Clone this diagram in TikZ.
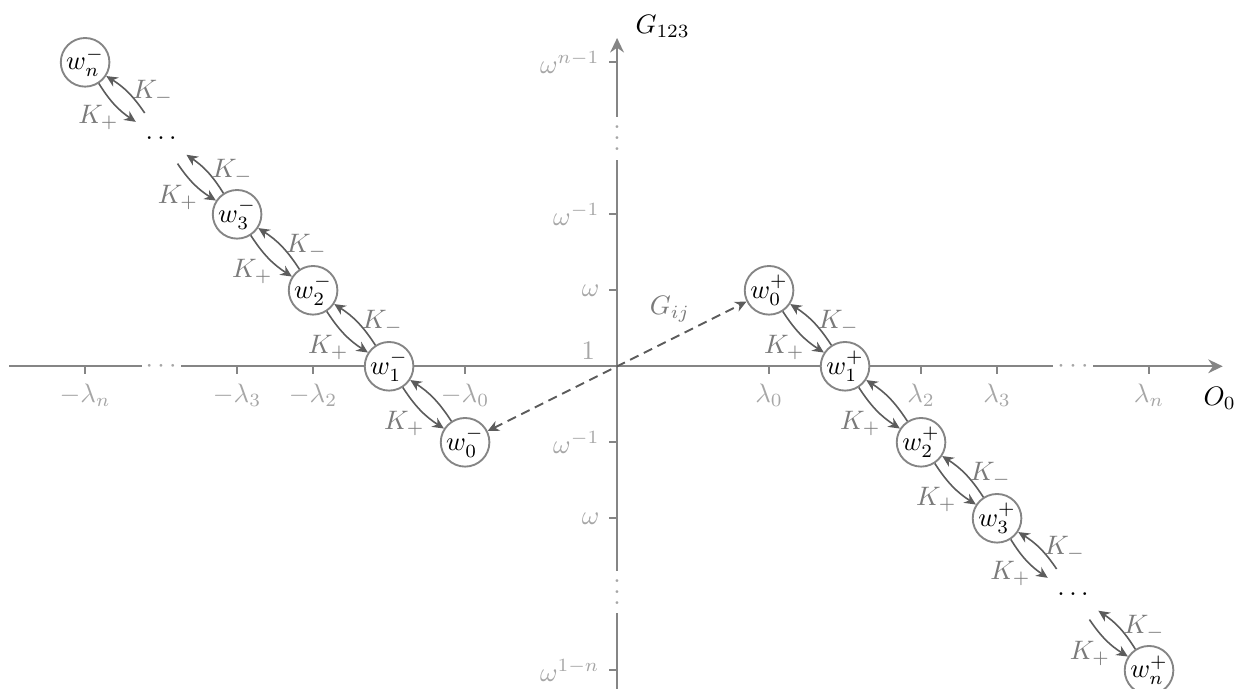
\documentclass[tikz,border=0pt]{standalone}
\usepackage{xcolor}
\usepackage{tikz}
\usetikzlibrary{arrows.meta, positioning}
\definecolor{axisgray}{HTML}{858585}
\definecolor{tickgray}{HTML}{A6A6A6}
\definecolor{rategray}{HTML}{5C5C5C}
\definecolor{labgray}{HTML}{7A7A7A}

\begin{document}
\begin{tikzpicture}[
  axis/.style={draw=axisgray, line width=0.9pt},
  tick/.style={draw=axisgray, line width=0.8pt},
  ticklab/.style={text=tickgray},
  axgap/.style={fill=white, text=tickgray, inner xsep=1.5pt, inner ysep=3.5pt},
  state/.style={circle, draw=axisgray, fill=white, line width=0.7pt, minimum size=0.64cm, inner sep=0pt},
  chaingap/.style={circle, minimum size=0.78cm, inner sep=0pt},
  rate/.style={draw=rategray, line width=0.6pt, -{Stealth[length=1.5mm, width=1.4mm]}},
  ratelab/.style={text=labgray, inner sep=1.5pt},
  kplus/.style={ratelab, below left, xshift=3.2pt, yshift=1.5pt},
  kminus/.style={ratelab, right},
]
  \useasboundingbox (-8.12,-4.24) rectangle (8.21,4.82);

  % Axes
  \draw[axis, -{Stealth[length=1.9mm, width=1.8mm]}] (-8,0) -- (7.97,0);
  \draw[axis, -{Stealth[length=1.9mm, width=1.8mm]}] (0,-4.3) -- (0,4.32);
  \node[axgap] (hgl) at (-6,0) {$\cdots$};
  \node[axgap] (hgr) at (6,0) {$\cdots$};
  \node[axgap, text height=9pt, text depth=0pt] (vgu) at (0,3) {$\vdots$};
  \node[axgap, text height=9pt, text depth=0pt] (vgd) at (0,-2.97) {$\vdots$};
  \node (xlab) at (7.93,-0.42) {$O_0$};
  \node (ylab) at (0.6,4.47) {$G_{123}$};
  \node[ticklab] (one) at (-0.38,0.2) {$1$};

  % Ticks on O_0
  \draw[tick] (-7,0) -- (-7,-0.1) node[ticklab, below] (lmn) {$-\lambda_n$};
  \draw[tick] (-5,0) -- (-5,-0.1) node[ticklab, below] (lm3) {$-\lambda_3$};
  \draw[tick] (-4,0) -- (-4,-0.1) node[ticklab, below] (lm2) {$-\lambda_2$};
  \draw[tick] (-2,0) -- (-2,-0.1) node[ticklab, below] (lm0) {$-\lambda_0$};
  \draw[tick] (2,0) -- (2,-0.1) node[ticklab, below] (lp0) {$\lambda_0$};
  \draw[tick] (4,0) -- (4,-0.1) node[ticklab, below] (lp2) {$\lambda_2$};
  \draw[tick] (5,0) -- (5,-0.1) node[ticklab, below] (lp3) {$\lambda_3$};
  \draw[tick] (7,0) -- (7,-0.1) node[ticklab, below] (lpn) {$\lambda_n$};

  % Ticks on G_123
  \draw[tick] (0,4) -- (-0.1,4) node[ticklab, left] (on1) {$\omega^{n-1}$};
  \draw[tick] (0,2) -- (-0.1,2) node[ticklab, left] (oa) {$\omega^{-1}$};
  \draw[tick] (0,1) -- (-0.1,1) node[ticklab, left] (ob) {$\omega$};
  \draw[tick] (0,-1) -- (-0.1,-1) node[ticklab, left] (oc) {$\omega^{-1}$};
  \draw[tick] (0,-2) -- (-0.1,-2) node[ticklab, left] (od) {$\omega$};
  \draw[tick] (0,-4) -- (-0.1,-4) node[ticklab, left] (o1n) {$\omega^{1-n}$};

  % Negative chain
  \node[state] (wmn) at (-7,4) {$w_n^-$};
  \node[chaingap] (wmd) at (-6,3) {$\ldots$};
  \node[state] (wm3) at (-5,2) {$w_3^-$};
  \node[state] (wm2) at (-4,1) {$w_2^-$};
  \node[state] (wm1) at (-3,0) {$w_1^-$};
  \node[state] (wm0) at (-2,-1) {$w_0^-$};

  % Positive chain
  \node[state] (wp0) at (2,1) {$w_0^+$};
  \node[state] (wp1) at (3,0) {$w_1^+$};
  \node[state] (wp2) at (4,-1) {$w_2^+$};
  \node[state] (wp3) at (5,-2) {$w_3^+$};
  \node[chaingap] (wpd) at (6,-3) {$\ldots$};
  \node[state] (wpn) at (7,-4) {$w_n^+$};

  % Rates between neighbours
  \foreach \up/\dn [count=\k] in {wmn/wmd, wmd/wm3, wm3/wm2, wm2/wm1,
                                  wp0/wp1, wp2/wp3, wp3/wpd, wpd/wpn} {
    \draw[rate] (\up) to[bend right=12] node[kplus] (kp\k) {$K_+$} (\dn);
    \draw[rate] (\dn) to[bend right=12] node[kminus] (km\k) {$K_-$} (\up);
  }
  % no K_- label where the lambda labels sit
  \draw[rate] (wm1) to[bend right=12] node[kplus] (kpa) {$K_+$} (wm0);
  \draw[rate] (wm0) to[bend right=12] (wm1);
  \draw[rate] (wp1) to[bend right=12] node[kplus] (kpb) {$K_+$} (wp2);
  \draw[rate] (wp2) to[bend right=12] (wp1);

  % Coupling
  \draw[draw=rategray, line width=0.7pt, dash pattern=on 3.5pt off 2.2pt,
        {Stealth[length=1.5mm, width=1.4mm]}-{Stealth[length=1.5mm, width=1.4mm]}]
    (wm0) -- node[ratelab, above left, pos=0.8] (gij) {$G_{ij}$} (wp0);

\end{tikzpicture}
\end{document}
